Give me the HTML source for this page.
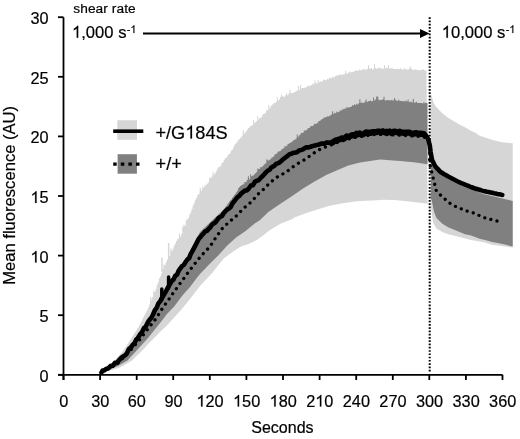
<!DOCTYPE html>
<html><head><meta charset="utf-8"><style>
html,body{margin:0;padding:0;background:#fff;}
body{width:520px;height:439px;overflow:hidden;}
svg{display:block;font-family:"Liberation Sans",sans-serif;filter:grayscale(1);}
</style></head><body>
<svg width="520" height="439" viewBox="0 0 520 439">
<g shape-rendering="geometricPrecision">
<polygon points="101.5,371.5 102.5,370.7 103.6,369.9 104.7,369.1 105.7,368.3 106.8,367.5 107.8,366.7 108.8,365.9 109.9,365.1 111.0,364.3 112.0,363.5 113.1,362.3 114.1,361.0 115.2,359.8 116.3,358.6 117.3,357.4 118.4,356.1 119.4,354.9 120.5,353.7 121.6,352.5 122.6,351.2 123.7,350.0 124.7,348.4 125.8,346.9 126.8,345.3 127.9,343.7 128.9,342.1 130.0,340.6 131.0,339.0 132.1,337.3 133.2,335.6 134.2,333.8 135.3,332.1 136.4,330.4 137.4,328.6 138.5,326.9 139.6,325.2 140.6,323.2 141.6,321.2 142.6,319.1 143.6,317.1 144.7,315.1 145.7,313.1 146.7,311.0 147.7,309.0 148.7,307.0 149.8,304.0 151.0,300.8 152.0,300.8 152.1,297.2 153.1,297.2 153.3,290.7 154.3,290.7 154.4,291.9 155.4,291.9 155.6,289.0 156.6,289.0 156.7,284.9 157.7,284.9 157.9,282.1 158.9,282.1 159.0,278.2 160.0,278.2 160.1,276.2 161.1,276.2 161.3,273.2 162.3,273.2 162.4,269.0 163.4,269.0 163.5,264.6 164.5,264.6 164.7,265.3 165.7,265.3 165.8,262.1 166.8,262.1 166.9,259.5 167.9,259.5 168.1,257.5 169.1,257.5 169.2,256.0 170.2,256.0 170.3,248.5 171.3,248.5 171.5,251.0 172.5,251.0 172.6,248.4 173.6,248.4 173.7,246.0 174.7,246.0 174.9,243.5 175.9,243.5 176.0,241.0 177.0,241.0 177.0,239.2 178.0,239.2 178.0,238.8 179.0,238.8 179.0,233.4 180.0,233.4 180.0,236.5 181.0,236.5 181.2,234.0 182.2,234.0 182.3,226.8 183.3,226.8 183.5,224.4 184.5,224.4 184.7,225.9 185.7,225.9 185.8,219.9 186.8,219.9 186.9,219.4 187.9,219.4 188.1,218.0 189.1,218.0 189.2,214.6 190.2,214.6 190.4,212.2 191.4,212.2 191.5,209.0 192.5,209.0 192.7,205.6 193.7,205.6 193.8,203.2 194.8,203.2 195.0,199.8 196.0,199.8 196.2,197.7 197.2,197.7 197.3,194.7 198.3,194.7 198.5,194.3 199.5,194.3 199.8,188.0 200.8,188.0 201.0,190.9 202.0,190.9 202.2,186.6 203.2,186.6 203.3,188.1 204.3,188.1 204.4,185.6 205.4,185.6 205.6,185.1 206.6,185.1 206.8,183.8 207.8,183.8 207.9,182.5 208.9,182.5 209.1,177.5 210.1,177.5 210.2,178.3 211.2,178.3 211.4,176.6 212.4,176.6 212.5,171.8 213.5,171.8 213.6,174.8 214.6,174.8 214.7,173.2 215.7,173.2 215.8,171.3 216.8,171.3 216.9,168.8 217.9,168.8 218.1,167.2 219.1,167.2 219.2,166.9 220.2,166.9 220.4,165.4 221.4,165.4 221.5,163.1 222.5,163.1 222.7,162.3 223.7,162.3 223.8,159.8 224.8,159.8 224.8,158.1 225.8,158.1 225.8,158.1 226.8,158.1 226.8,156.5 227.8,156.5 227.8,154.5 228.8,154.5 228.8,154.2 229.8,154.2 229.8,152.8 230.8,152.8 230.8,150.5 231.8,150.5 232.0,149.7 233.0,149.7 233.1,147.6 234.1,147.6 234.2,144.8 235.2,144.8 235.4,143.6 236.4,143.6 236.5,142.3 237.5,142.3 237.7,140.3 238.7,140.3 239.1,139.0 240.1,139.0 240.5,137.5 241.5,137.5 241.6,136.2 242.6,136.2 242.7,129.9 243.7,129.9 243.7,133.8 244.7,133.8 244.8,132.5 245.8,132.5 245.9,131.2 246.9,131.2 246.9,129.6 247.9,129.6 248.0,127.9 249.0,127.9 249.1,127.3 250.1,127.3 250.1,126.0 251.1,126.0 251.1,125.8 252.1,125.8 252.1,125.0 253.1,125.0 253.1,119.8 254.1,119.8 254.2,123.3 255.2,123.3 255.2,121.8 256.2,121.8 256.2,121.2 257.2,121.2 257.2,115.8 258.2,115.8 258.2,119.6 259.2,119.6 259.2,118.1 260.2,118.1 260.2,117.9 261.2,117.9 261.2,116.8 262.2,116.8 262.2,114.7 263.2,114.7 263.2,114.0 264.2,114.0 264.2,113.6 265.2,113.6 265.2,112.6 266.2,112.6 266.2,110.1 267.2,110.1 267.3,110.3 268.3,110.3 268.3,104.9 269.3,104.9 269.4,108.5 270.4,108.5 270.4,106.4 271.4,106.4 271.5,105.1 272.5,105.1 272.6,104.0 273.6,104.0 273.6,103.0 274.6,103.0 274.7,102.8 275.7,102.8 275.8,102.1 276.8,102.1 276.8,97.5 277.8,97.5 277.9,100.4 278.9,100.4 278.9,99.4 279.9,99.4 280.0,96.9 281.0,96.9 281.0,94.8 282.0,94.8 282.1,96.4 283.1,96.4 283.1,96.5 284.1,96.5 284.2,96.7 285.2,96.7 285.2,94.9 286.2,94.9 286.3,93.2 287.3,93.2 287.3,95.5 288.3,95.5 288.4,93.6 289.4,93.6 289.4,90.0 290.4,90.0 290.5,92.9 291.5,92.9 291.5,93.0 292.5,93.0 292.5,93.1 293.5,93.1 293.6,92.6 294.6,92.6 294.6,91.9 295.6,91.9 295.7,90.6 296.7,90.6 296.7,90.9 297.7,90.9 297.8,86.0 298.8,86.0 298.8,89.9 299.8,89.9 299.9,85.1 300.9,85.1 300.9,88.4 301.9,88.4 302.0,87.9 303.0,87.9 303.0,88.1 304.0,88.1 304.1,87.7 305.1,87.7 305.1,87.4 306.1,87.4 306.2,87.0 307.2,87.0 307.2,85.6 308.2,85.6 308.3,86.2 309.3,86.2 309.3,86.0 310.3,86.0 310.4,85.3 311.4,85.3 311.4,85.0 312.4,85.0 312.5,83.5 313.5,83.5 313.5,84.2 314.5,84.2 314.6,80.2 315.6,80.2 315.6,83.1 316.6,83.1 316.7,83.4 317.7,83.4 317.7,79.9 318.7,79.9 318.7,82.3 319.7,82.3 319.8,81.2 320.8,81.2 320.8,81.9 321.8,81.9 321.9,81.0 322.9,81.0 322.9,80.1 323.9,80.1 323.9,79.5 324.9,79.5 325.0,80.4 326.0,80.4 326.0,80.0 327.0,80.0 327.0,78.9 328.0,78.9 328.0,79.3 329.0,79.3 329.0,77.6 330.0,77.6 330.0,78.6 331.0,78.6 331.0,78.1 332.0,78.1 332.0,76.7 333.0,76.7 333.0,77.6 334.0,77.6 334.0,77.3 335.0,77.3 335.0,75.7 336.0,75.7 336.0,75.8 337.0,75.8 337.0,75.1 338.0,75.1 338.0,75.5 339.0,75.5 339.0,74.4 340.0,74.4 340.0,74.6 341.0,74.6 341.0,74.9 342.0,74.9 342.1,74.7 343.1,74.7 343.1,74.2 344.1,74.2 344.1,74.2 345.1,74.2 345.2,70.7 346.2,70.7 346.2,73.6 347.2,73.6 347.2,73.4 348.2,73.4 348.3,72.4 349.3,72.4 349.3,71.5 350.3,71.5 350.4,72.6 351.4,72.6 351.4,71.7 352.4,71.7 352.4,72.1 353.4,72.1 353.5,71.5 354.5,71.5 354.5,70.7 355.5,70.7 355.5,69.9 356.5,69.9 356.6,71.1 357.6,71.1 357.6,70.8 358.6,70.8 358.6,69.3 359.6,69.3 359.7,70.6 360.7,70.6 360.7,70.0 361.7,70.0 361.7,69.9 362.7,69.9 362.8,69.1 363.8,69.1 363.8,68.8 364.8,68.8 364.8,70.0 365.8,70.0 365.9,69.3 366.9,69.3 366.9,69.3 367.9,69.3 367.9,65.1 368.9,65.1 369.0,68.2 370.0,68.2 370.0,68.7 371.0,68.7 371.0,68.0 372.0,68.0 372.0,69.4 373.0,69.4 373.0,69.3 374.0,69.3 374.0,63.8 375.0,63.8 375.0,68.0 376.0,68.0 376.0,69.0 377.0,69.0 377.0,68.3 378.0,68.3 378.0,67.8 379.0,67.8 379.0,67.9 380.0,67.9 380.0,68.2 381.0,68.2 381.0,68.5 382.0,68.5 382.0,68.5 383.0,68.5 383.0,68.8 384.0,68.8 384.0,65.2 385.0,65.2 385.0,68.4 386.0,68.4 386.0,67.5 387.0,67.5 387.0,68.2 388.0,68.2 388.0,65.1 389.0,65.1 389.0,68.8 390.0,68.8 390.0,67.9 391.0,67.9 391.0,68.4 392.0,68.4 392.0,68.2 393.0,68.2 393.0,69.0 394.0,69.0 394.0,69.0 395.0,69.0 395.0,69.0 396.0,69.0 396.0,69.1 397.0,69.1 397.0,69.1 398.0,69.1 398.0,69.2 399.0,69.2 399.0,69.1 400.0,69.1 400.0,68.3 401.0,68.3 401.1,69.3 402.1,69.3 402.2,69.4 403.2,69.4 403.2,69.4 404.2,69.4 404.3,68.1 405.3,68.1 405.4,69.4 406.4,69.4 406.5,69.6 407.5,69.6 407.6,69.5 408.6,69.5 408.6,69.1 409.6,69.1 409.7,66.5 410.7,66.5 410.8,68.4 411.8,68.4 411.8,69.9 412.8,69.9 412.8,69.5 413.8,69.5 413.9,70.0 414.9,70.0 414.9,69.3 415.9,69.3 415.9,69.7 416.9,69.7 416.9,70.1 417.9,70.1 418.0,69.7 419.0,69.7 419.0,70.2 420.0,70.2 420.0,70.3 421.0,70.3 421.1,70.1 422.1,70.1 422.2,69.2 423.2,69.2 423.2,69.4 424.2,69.4 424.3,70.6 425.3,70.6 425.4,70.4 426.4,70.4 426.5,70.8 427.5,203.8 416.0,202.3 406.2,201.3 395.0,200.0 383.8,199.8 372.3,200.5 365.0,200.8 355.0,201.5 341.1,203.4 329.6,205.8 318.1,209.2 306.5,212.9 295.0,217.3 291.9,219.2 280.4,223.8 268.8,230.8 263.1,235.4 257.3,239.8 249.2,243.8 241.0,246.5 235.4,250.0 229.6,254.0 223.8,258.5 218.0,265.5 212.3,273.1 206.5,279.0 200.8,285.0 190.0,299.0 181.0,310.0 167.3,325.0 160.0,332.0 153.7,338.5 148.5,343.5 143.5,349.2 138.0,354.5 132.0,360.6 126.0,364.0 120.0,367.5 112.0,370.0 101.5,372.5" fill="#d6d6d6"/>
<polygon points="430.8,93.0 431.3,94.8 433.5,102.8 436.4,107.3 442.1,113.0 447.8,117.6 453.5,121.0 459.2,124.4 464.9,127.3 470.0,130.3 475.7,133.1 479.1,135.5 487.1,138.2 492.8,139.9 498.5,141.6 504.2,142.6 512.7,143.3 512.7,247.6 492.3,244.7 485.0,242.5 471.1,240.0 459.6,237.1 448.1,234.2 442.3,231.9 436.5,228.4 433.1,222.7 430.8,206.0" fill="#d6d6d6"/>
<polygon points="101.5,369.5 102.6,369.3 103.7,368.9 104.9,368.5 106.0,368.1 107.2,367.3 108.5,366.6 109.7,365.8 110.9,365.0 111.9,364.4 112.9,363.7 113.9,363.1 114.9,362.4 115.9,361.8 116.9,361.1 117.9,360.5 118.9,359.8 119.9,358.9 120.9,357.9 121.9,356.9 122.9,356.0 123.9,354.8 124.9,353.6 125.9,352.4 126.9,351.2 127.9,349.9 128.9,348.7 129.9,347.4 130.9,346.2 132.1,344.6 133.3,342.9 134.5,341.3 135.6,339.8 136.7,338.3 137.8,336.8 138.8,335.2 139.9,333.6 140.9,332.1 141.9,330.5 143.0,328.9 144.0,327.3 145.1,325.7 146.2,324.1 147.2,322.5 148.3,320.9 149.4,319.3 150.5,317.5 151.7,315.6 152.8,313.8 153.9,311.6 155.1,309.3 156.2,307.1 157.4,305.0 158.5,302.8 159.6,300.6 160.8,298.5 161.9,296.3 162.9,294.7 163.9,293.1 165.0,291.4 166.0,289.8 167.2,287.8 168.4,285.8 169.5,283.8 170.7,281.8 171.9,279.8 172.9,278.4 173.9,277.0 175.0,275.6 176.0,274.2 177.0,272.8 178.0,271.3 179.0,269.8 180.0,268.3 181.0,266.8 182.0,265.3 183.0,263.5 184.0,261.7 185.0,259.9 186.0,258.1 187.0,256.4 188.0,254.6 189.0,252.8 190.0,251.0 191.0,249.1 192.0,247.2 193.0,245.3 194.0,243.4 195.0,241.5 196.0,239.6 197.0,237.7 198.0,235.8 199.0,233.9 200.0,232.0 201.1,231.0 202.1,230.0 203.2,229.0 204.2,228.0 205.2,227.0 206.3,226.0 207.3,225.0 208.4,224.0 209.4,223.0 210.5,222.0 211.5,221.0 212.6,220.0 213.6,219.0 214.6,218.1 215.7,217.1 216.7,216.2 217.7,215.2 218.7,214.3 219.7,213.3 220.7,212.4 221.8,211.4 222.8,210.5 223.8,209.5 224.8,208.1 225.9,206.6 226.9,205.2 227.9,203.8 228.9,202.3 229.9,200.9 231.0,199.4 232.0,199.4 232.0,197.5 233.0,197.5 233.0,196.6 234.0,196.6 234.0,195.1 235.0,195.1 235.0,193.7 236.0,193.7 236.0,192.2 237.0,192.2 237.0,190.8 238.0,190.8 238.0,188.3 239.0,188.3 239.0,187.1 240.0,187.1 240.0,186.1 241.0,186.1 241.1,185.3 242.1,185.3 242.2,184.7 243.2,184.7 243.4,183.8 244.4,183.8 244.5,181.9 245.5,181.9 245.6,181.9 246.6,181.9 246.8,180.0 247.8,180.0 247.9,176.2 248.9,176.2 249.1,179.2 250.1,179.2 250.1,174.3 251.1,174.3 251.1,176.3 252.1,176.3 252.1,175.8 253.1,175.8 253.1,175.2 254.1,175.2 254.2,174.1 255.2,174.1 255.2,173.1 256.2,173.1 256.2,172.1 257.2,172.1 257.2,168.6 258.2,168.6 258.2,169.0 259.2,169.0 259.2,168.8 260.2,168.8 260.2,167.1 261.2,167.1 261.2,167.2 262.2,167.2 262.2,166.3 263.2,166.3 263.3,165.3 264.3,165.3 264.3,163.9 265.3,163.9 265.3,163.2 266.3,163.2 266.3,159.3 267.3,159.3 267.3,160.3 268.3,160.3 268.3,160.6 269.3,160.6 269.3,159.7 270.3,159.7 270.3,158.9 271.3,158.9 271.3,157.5 272.3,157.5 272.4,157.2 273.4,157.2 273.4,156.3 274.4,156.3 274.4,154.4 275.4,154.4 275.4,154.1 276.4,154.1 276.4,153.4 277.4,153.4 277.4,151.8 278.4,151.8 278.4,151.6 279.4,151.6 279.5,151.0 280.5,151.0 280.5,150.5 281.5,150.5 281.5,149.1 282.5,149.1 282.5,148.8 283.5,148.8 283.6,147.7 284.6,147.7 284.6,146.0 285.6,146.0 285.6,146.4 286.6,146.4 286.6,145.6 287.6,145.6 287.6,143.9 288.6,143.9 288.6,143.4 289.6,143.4 289.6,142.9 290.6,142.9 290.7,142.3 291.7,142.3 291.7,141.8 292.7,141.8 292.7,140.6 293.7,140.6 293.7,139.9 294.7,139.9 294.7,139.5 295.7,139.5 295.7,138.5 296.7,138.5 296.7,134.6 297.7,134.6 297.7,136.8 298.7,136.8 298.7,135.6 299.7,135.6 299.8,134.4 300.8,134.4 300.8,133.1 301.8,133.1 301.8,133.0 302.8,133.0 302.8,132.4 303.8,132.4 303.8,130.5 304.8,130.5 304.8,130.8 305.8,130.8 305.8,130.1 306.8,130.1 306.8,129.5 307.8,129.5 307.8,128.1 308.8,128.1 308.9,128.0 309.9,128.0 309.9,126.4 310.9,126.4 310.9,125.9 311.9,125.9 311.9,126.0 312.9,126.0 312.9,125.5 313.9,125.5 314.0,123.7 315.0,123.7 315.1,124.1 316.1,124.1 316.2,123.4 317.2,123.4 317.3,122.7 318.3,122.7 318.4,121.0 319.4,121.0 319.4,121.0 320.4,121.0 320.5,120.1 321.5,120.1 321.6,119.0 322.6,119.0 322.7,118.5 323.7,118.5 323.8,117.5 324.8,117.5 324.8,117.3 325.8,117.3 325.9,117.0 326.9,117.0 326.9,116.2 327.9,116.2 327.9,116.5 328.9,116.5 329.0,115.7 330.0,115.7 330.0,115.5 331.0,115.5 331.0,114.5 332.0,114.5 332.1,111.2 333.1,111.2 333.1,114.1 334.1,114.1 334.2,112.8 335.2,112.8 335.2,113.2 336.2,113.2 336.3,111.6 337.3,111.6 337.3,112.3 338.3,112.3 338.4,111.9 339.4,111.9 339.4,110.2 340.4,110.2 340.5,111.0 341.5,111.0 341.5,109.6 342.5,109.6 342.6,109.6 343.6,109.6 343.6,108.5 344.6,108.5 344.7,109.1 345.7,109.1 345.7,107.6 346.7,107.6 346.8,107.6 347.8,107.6 347.8,107.6 348.8,107.6 348.9,107.3 349.9,107.3 349.9,106.9 350.9,106.9 351.0,106.4 352.0,106.4 352.0,105.2 353.0,105.2 353.1,105.5 354.1,105.5 354.1,104.2 355.1,104.2 355.2,105.0 356.2,105.0 356.2,103.7 357.2,103.7 357.3,104.4 358.3,104.4 358.3,103.2 359.3,103.2 359.4,99.3 360.4,99.3 360.4,102.8 361.4,102.8 361.5,102.5 362.5,102.5 362.5,103.0 363.5,103.0 363.6,102.8 364.6,102.8 364.6,101.4 365.6,101.4 365.7,99.5 366.7,99.5 366.7,102.0 367.7,102.0 367.8,101.3 368.8,101.3 368.8,101.0 369.8,101.0 369.9,100.5 370.9,100.5 370.9,101.3 371.9,101.3 372.0,101.2 373.0,101.2 373.0,97.4 374.0,97.4 374.1,100.4 375.1,100.4 375.1,99.6 376.1,99.6 376.2,96.4 377.2,96.4 377.2,96.6 378.2,96.6 378.3,99.8 379.3,99.8 379.3,100.2 380.3,100.2 380.4,99.7 381.4,99.7 381.4,100.0 382.4,100.0 382.5,99.3 383.5,99.3 383.5,96.7 384.5,96.7 384.6,100.4 385.6,100.4 385.6,100.3 386.6,100.3 386.7,100.2 387.7,100.2 387.7,99.9 388.7,99.9 388.7,100.3 389.7,100.3 389.8,100.4 390.8,100.4 390.8,99.9 391.8,99.9 391.9,100.2 392.9,100.2 392.9,100.5 393.9,100.5 394.0,98.1 395.0,98.1 395.0,99.7 396.0,99.7 396.1,100.7 397.1,100.7 397.1,100.7 398.1,100.7 398.2,99.7 399.2,99.7 399.2,100.8 400.2,100.8 400.3,100.9 401.3,100.9 401.3,101.1 402.3,101.1 402.4,101.2 403.4,101.2 403.4,101.3 404.4,101.3 404.5,101.2 405.5,101.2 405.5,100.5 406.5,100.5 406.6,101.6 407.6,101.6 407.6,99.6 408.6,99.6 408.7,102.0 409.7,102.0 409.7,102.2 410.7,102.2 410.8,101.6 411.8,101.6 411.8,102.4 412.8,102.4 412.9,98.8 413.9,98.8 413.9,102.6 414.9,102.6 415.0,102.5 416.0,102.5 416.0,101.8 417.0,101.8 417.1,103.0 418.1,103.0 418.1,103.1 419.1,103.1 419.2,103.1 420.2,103.1 420.2,102.9 421.2,102.9 421.3,103.1 422.3,103.1 422.3,103.5 423.3,103.5 423.3,102.2 424.3,102.2 424.4,103.3 425.4,103.3 425.4,102.7 426.4,102.7 426.5,103.1 427.5,103.0 427.5,164.3 413.8,162.3 400.0,161.0 380.0,159.5 360.0,162.5 348.3,165.5 337.7,170.0 326.2,175.0 314.6,181.5 303.1,188.5 291.5,196.5 280.0,204.0 268.3,212.0 260.1,220.0 254.7,223.6 245.6,231.0 236.4,237.3 227.3,245.5 218.2,255.5 209.1,264.6 200.0,274.0 196.0,279.0 190.0,287.0 182.8,295.0 174.2,306.5 167.0,314.0 160.5,322.5 154.0,330.5 148.0,338.0 143.0,343.5 137.8,349.2 132.5,355.0 127.5,360.6 118.0,366.0 110.0,369.5 101.5,372.0" fill="#808080"/>
<polygon points="430.8,155.0 431.5,161.0 434.7,168.0 440.3,174.0 448.2,179.0 457.7,184.0 465.0,187.3 475.9,190.9 483.2,194.0 492.3,196.0 501.4,198.2 512.7,200.9 512.7,246.5 501.4,243.8 492.3,241.9 485.0,240.0 479.6,238.8 471.1,235.6 465.0,234.2 459.6,231.9 448.1,227.3 442.3,223.8 436.5,218.1 434.2,212.3 433.2,208.0 431.9,201.0 430.8,198.0" fill="#808080"/>
<polyline points="101.5,372.0 108.0,369.0 118.0,363.0 128.0,353.0 139.0,340.5 149.0,327.5 155.7,319.0 159.1,313.5 162.6,308.0 166.6,302.5 170.1,297.5 173.2,293.0 176.9,287.9 180.6,282.7 187.9,272.8 193.4,265.5 201.0,256.0 210.0,246.5 214.6,239.4 218.1,234.5 220.9,230.0 224.4,226.1 229.0,222.2 233.1,218.6 236.5,215.8 243.1,208.8 251.7,201.5 255.8,196.7 259.2,192.9 263.3,189.5 266.7,186.0 270.2,182.9 273.6,179.6 278.8,176.0 284.0,173.3 288.7,170.2 292.1,167.5 295.6,164.8 299.6,162.5 303.6,160.3 307.1,157.9 312.9,153.8 316.3,151.3 319.8,149.4 325.6,146.9 333.0,144.0 340.0,141.5 353.0,137.7 364.6,136.0 376.1,134.2 391.5,134.8 403.0,135.4 414.6,136.0 424.0,137.0 428.5,139.0 429.6,143.0 429.6,163.0 430.7,167.8 431.4,171.0 433.2,178.2 436.3,190.7 441.1,195.6 445.6,199.6 450.5,203.8 456.4,206.9 462.4,209.3 468.2,211.5 474.5,213.3 480.1,215.9 485.9,218.3 492.0,219.7 498.2,221.3" fill="none" stroke="#000" stroke-width="3.3" stroke-linecap="round" stroke-dasharray="0.01 6.3"/>
<g stroke="#d6d6d6" stroke-width="1.4"><line x1="168.6" y1="243" x2="168.6" y2="258"/><line x1="162" y1="257.4" x2="162" y2="272"/><line x1="150.7" y1="297.4" x2="150.7" y2="305"/></g>
<g stroke="#000" stroke-width="3.5" stroke-linecap="round"><line x1="161.8" y1="289" x2="161.8" y2="300"/><line x1="168.6" y1="277" x2="168.6" y2="288"/></g>
<polyline points="331.3,144.1 333.0,143.4 334.8,142.0 336.5,141.6 338.2,140.9 340.0,140.4 341.6,139.5 343.2,139.5 344.9,139.5 346.5,137.6 348.1,138.0 349.8,137.7 351.4,136.5 353.0,136.2 354.7,136.8 356.3,134.9 358.0,135.5 359.6,134.6 361.3,135.5 362.9,135.5 364.6,134.5 366.2,133.5 367.9,134.1 369.5,133.8 371.2,133.9 372.8,133.2 374.5,133.2 376.1,133.3 377.8,132.8 379.5,132.7 381.2,133.7 382.9,132.4 384.7,133.4 386.4,132.9 388.1,133.6 389.8,132.6 391.5,134.2 393.1,133.1 394.8,132.7 396.4,133.2 398.1,133.5 399.7,132.9 401.4,133.7 403.0,133.8 404.7,134.3 406.3,133.8 408.0,133.7 409.6,133.7 411.3,134.8 412.9,135.2 414.6,134.5 416.4,134.2 418.2,135.4 420.0,134.8 422.0,135.0 424.0,135.3" fill="none" stroke="#000" stroke-width="4" stroke-linejoin="round" stroke-linecap="round"/>
<polyline points="101.5,372.5 102.6,370.5 104.3,370.4 106.0,369.0 107.6,368.6 109.3,367.3 110.9,365.7 112.9,365.6 114.9,362.9 116.9,362.9 118.9,360.4 120.9,358.2 122.9,356.7 124.9,355.3 126.9,353.3 128.9,349.0 130.9,347.4 132.7,344.9 134.5,343.0 136.2,339.7 137.8,338.0 139.9,334.6 141.9,332.3 144.0,328.1 145.8,326.6 147.6,322.8 149.4,320.0 151.1,318.1 152.8,315.0 155.1,309.8 156.8,307.5 158.5,303.2 160.2,301.3 161.9,297.9 163.9,294.8 166.0,291.2 168.0,287.4 169.9,284.2 171.9,280.8 173.6,279.4 175.3,275.6 177.0,274.7 178.7,270.6 180.3,268.5 182.0,266.1 183.8,264.9 185.6,262.0 187.4,259.5 189.2,258.1 190.8,253.8 192.4,251.1 194.0,248.1 196.2,243.9 198.5,239.3 200.2,237.3 201.9,235.1 203.7,233.3 205.4,231.2 207.1,230.8 208.8,228.7 210.4,227.2 212.0,224.6 213.7,223.5 215.3,222.5 216.9,220.5 218.6,218.0 220.4,216.9 222.1,215.9 223.8,213.0 225.5,211.2 227.2,209.6 229.0,208.6 230.7,207.1 232.3,203.7 234.0,201.5 235.7,199.4 237.3,197.4 239.2,196.0 241.1,193.6 243.0,192.2 244.9,190.5 246.9,190.4 248.8,188.5 250.9,185.5 252.9,185.2 255.0,181.8 256.8,180.7 258.6,180.2 260.4,178.2 262.7,176.0 265.0,173.4 267.3,171.0 269.6,169.8 271.2,167.7 272.8,166.6 274.5,165.7 276.1,163.9 277.7,163.3 279.7,162.4 281.6,160.7 283.6,158.8 285.6,157.4 287.6,155.9 289.5,154.2 291.5,153.8 293.3,152.7 295.2,152.6 297.0,152.2 299.0,150.5 301.0,150.0 303.0,149.4 304.7,148.2 306.3,147.2 308.0,147.4 309.6,147.2 311.3,146.5 313.0,145.9 314.6,145.6 316.4,145.1 318.2,144.7 320.0,144.1 322.0,143.6 324.1,143.8 326.1,142.6 327.8,142.6 329.6,142.8 331.3,142.1 333.0,141.4 334.8,140.0 336.5,139.6 338.2,138.9 340.0,138.4 341.6,137.5 343.2,137.5 344.9,137.5 346.5,135.6 348.1,136.0 349.8,135.7 351.4,134.5 353.0,134.2 354.7,134.8 356.3,132.9 358.0,133.5 359.6,132.6 361.3,133.5 362.9,133.5 364.6,132.5 366.2,131.5 367.9,132.1 369.5,131.8 371.2,131.9 372.8,131.2 374.5,131.2 376.1,131.3 377.8,130.8 379.5,130.7 381.2,131.7 382.9,130.4 384.7,131.4 386.4,130.9 388.1,131.6 389.8,130.6 391.5,132.2 393.1,131.1 394.8,130.7 396.4,131.2 398.1,131.5 399.7,130.9 401.4,131.7 403.0,131.8 404.7,132.3 406.3,131.8 408.0,131.7 409.6,131.7 411.3,132.8 412.9,133.2 414.6,132.5 416.4,132.2 418.2,133.4 420.0,132.8 422.0,133.0 424.0,133.3 426.5,136.0 428.3,139.5 429.8,145.5 430.6,151.8 432.0,159.8 435.2,166.2 436.9,168.1 438.6,169.9 440.3,171.8 442.3,173.0 444.2,174.2 446.2,175.3 448.2,176.5 450.1,177.5 452.0,178.5 453.9,179.5 455.8,180.5 457.7,181.5 459.5,182.3 461.4,183.1 463.2,183.8 465.0,184.6 466.8,185.3 468.6,186.0 470.5,186.8 472.3,187.5 474.1,188.2 475.9,188.7 477.7,189.3 479.6,189.8 481.4,190.4 483.2,190.9 485.0,191.3 486.8,191.7 488.7,192.0 490.5,192.4 492.3,192.8 494.0,193.2 495.6,193.5 497.3,193.9 499.0,194.2 500.6,194.6 502.3,194.9" fill="none" stroke="#000" stroke-width="4.6" stroke-linejoin="round" stroke-linecap="round"/>
</g>
<line x1="429.7" y1="17.2" x2="429.7" y2="371.6" stroke="#000" stroke-width="2" stroke-dasharray="1.7 1.564"/>
<g stroke="#000" stroke-width="1.8">
<line x1="63.5" y1="17.2" x2="63.5" y2="380"/>
<line x1="58" y1="374.8" x2="502.5" y2="374.8"/>
<line x1="58" y1="374.8" x2="63.5" y2="374.8"/><line x1="58" y1="315.2" x2="63.5" y2="315.2"/><line x1="58" y1="255.6" x2="63.5" y2="255.6"/><line x1="58" y1="196.0" x2="63.5" y2="196.0"/><line x1="58" y1="136.4" x2="63.5" y2="136.4"/><line x1="58" y1="76.8" x2="63.5" y2="76.8"/><line x1="58" y1="17.2" x2="63.5" y2="17.2"/>
<line x1="63.5" y1="374.8" x2="63.5" y2="380"/><line x1="100.1" y1="374.8" x2="100.1" y2="380"/><line x1="136.7" y1="374.8" x2="136.7" y2="380"/><line x1="173.2" y1="374.8" x2="173.2" y2="380"/><line x1="209.8" y1="374.8" x2="209.8" y2="380"/><line x1="246.4" y1="374.8" x2="246.4" y2="380"/><line x1="283.0" y1="374.8" x2="283.0" y2="380"/><line x1="319.6" y1="374.8" x2="319.6" y2="380"/><line x1="356.2" y1="374.8" x2="356.2" y2="380"/><line x1="392.8" y1="374.8" x2="392.8" y2="380"/><line x1="429.3" y1="374.8" x2="429.3" y2="380"/><line x1="465.9" y1="374.8" x2="465.9" y2="380"/><line x1="502.5" y1="374.8" x2="502.5" y2="380"/>
<line x1="143" y1="33.5" x2="421" y2="33.5"/>
</g>
<polygon points="420,28.9 429.6,33.5 420,38.1" fill="#000"/>
<g font-size="16" fill="#000" stroke="#000" stroke-width="0.2">
<text x="39.53" y="381.80" font-size="16.3" stroke-width="0.2">0</text><text x="39.53" y="322.20" font-size="16.3" stroke-width="0.2">5</text><text x="30.47" y="262.60" font-size="16.3" stroke-width="0.2"> 0</text><path d="M763,0 L583,0 L583,1147 Q518,1085 412.5,1023 Q307,961 223,930 L223,1104 Q374,1175 487,1276 Q600,1377 647,1472 L763,1472 Z" transform="translate(30.47,262.60) scale(0.00796,-0.00796)" stroke-width="25.1"/><text x="30.47" y="203.00" font-size="16.3" stroke-width="0.2"> 5</text><path d="M763,0 L583,0 L583,1147 Q518,1085 412.5,1023 Q307,961 223,930 L223,1104 Q374,1175 487,1276 Q600,1377 647,1472 L763,1472 Z" transform="translate(30.47,203.00) scale(0.00796,-0.00796)" stroke-width="25.1"/><text x="30.47" y="143.40" font-size="16.3" stroke-width="0.2">20</text><text x="30.47" y="83.80" font-size="16.3" stroke-width="0.2">25</text><text x="30.47" y="24.20" font-size="16.3" stroke-width="0.2">30</text>
<text x="59.17" y="406.60" font-size="16.3" stroke-width="0.2">0</text><text x="91.22" y="406.60" font-size="16.3" stroke-width="0.2">30</text><text x="127.80" y="406.60" font-size="16.3" stroke-width="0.2">60</text><text x="164.38" y="406.60" font-size="16.3" stroke-width="0.2">90</text><text x="196.44" y="406.60" font-size="16.3" stroke-width="0.2"> 20</text><path d="M763,0 L583,0 L583,1147 Q518,1085 412.5,1023 Q307,961 223,930 L223,1104 Q374,1175 487,1276 Q600,1377 647,1472 L763,1472 Z" transform="translate(196.44,406.60) scale(0.00796,-0.00796)" stroke-width="25.1"/><text x="233.02" y="406.60" font-size="16.3" stroke-width="0.2"> 50</text><path d="M763,0 L583,0 L583,1147 Q518,1085 412.5,1023 Q307,961 223,930 L223,1104 Q374,1175 487,1276 Q600,1377 647,1472 L763,1472 Z" transform="translate(233.02,406.60) scale(0.00796,-0.00796)" stroke-width="25.1"/><text x="269.60" y="406.60" font-size="16.3" stroke-width="0.2"> 80</text><path d="M763,0 L583,0 L583,1147 Q518,1085 412.5,1023 Q307,961 223,930 L223,1104 Q374,1175 487,1276 Q600,1377 647,1472 L763,1472 Z" transform="translate(269.60,406.60) scale(0.00796,-0.00796)" stroke-width="25.1"/><text x="306.19" y="406.60" font-size="16.3" stroke-width="0.2">2 0</text><path d="M763,0 L583,0 L583,1147 Q518,1085 412.5,1023 Q307,961 223,930 L223,1104 Q374,1175 487,1276 Q600,1377 647,1472 L763,1472 Z" transform="translate(315.25,406.60) scale(0.00796,-0.00796)" stroke-width="25.1"/><text x="342.77" y="406.60" font-size="16.3" stroke-width="0.2">240</text><text x="379.35" y="406.60" font-size="16.3" stroke-width="0.2">270</text><text x="415.94" y="406.60" font-size="16.3" stroke-width="0.2">300</text><text x="452.52" y="406.60" font-size="16.3" stroke-width="0.2">330</text><text x="489.10" y="406.60" font-size="16.3" stroke-width="0.2">360</text>
<text x="251.3" y="433.3" >Seconds</text>
<text transform="translate(15.2,284.8) rotate(-90)" font-size="16.6">Mean fluorescence (AU)</text>
<text x="72.00" y="37.70" font-size="16.6" stroke-width="0.2"> ,000 s</text><path d="M763,0 L583,0 L583,1147 Q518,1085 412.5,1023 Q307,961 223,930 L223,1104 Q374,1175 487,1276 Q600,1377 647,1472 L763,1472 Z" transform="translate(72.00,37.70) scale(0.00811,-0.00811)" stroke-width="24.7"/><text x="126.75" y="33.00" font-size="10.8" stroke-width="0.2">- </text><path d="M763,0 L583,0 L583,1147 Q518,1085 412.5,1023 Q307,961 223,930 L223,1104 Q374,1175 487,1276 Q600,1377 647,1472 L763,1472 Z" transform="translate(130.35,33.00) scale(0.00527,-0.00527)" stroke-width="37.9"/>
<text x="441.70" y="37.70" font-size="16.6" stroke-width="0.2"> 0,000 s</text><path d="M763,0 L583,0 L583,1147 Q518,1085 412.5,1023 Q307,961 223,930 L223,1104 Q374,1175 487,1276 Q600,1377 647,1472 L763,1472 Z" transform="translate(441.70,37.70) scale(0.00811,-0.00811)" stroke-width="24.7"/><text x="505.68" y="33.00" font-size="10.8" stroke-width="0.2">- </text><path d="M763,0 L583,0 L583,1147 Q518,1085 412.5,1023 Q307,961 223,930 L223,1104 Q374,1175 487,1276 Q600,1377 647,1472 L763,1472 Z" transform="translate(509.28,33.00) scale(0.00527,-0.00527)" stroke-width="37.9"/>
</g>
<text x="73.3" y="13" font-size="13.7" letter-spacing="0.08" stroke="#000" stroke-width="0.2">shear rate</text>
<rect x="117.3" y="120.2" width="19.7" height="19.6" fill="#d6d6d6"/>
<line x1="113.2" y1="131.2" x2="143.3" y2="131.2" stroke="#000" stroke-width="3.6"/>
<rect x="117.6" y="154.2" width="19.3" height="19.5" fill="#808080"/>
<line x1="113.2" y1="164.2" x2="139.8" y2="164.2" stroke="#000" stroke-width="3.3" stroke-dasharray="3.5 4.1"/>
<g font-size="18.2" fill="#000" stroke="#000" stroke-width="0.2">
<text x="155.40" y="138.60" font-size="18.2" stroke-width="0.2">+/G 84S</text><path d="M763,0 L583,0 L583,1147 Q518,1085 412.5,1023 Q307,961 223,930 L223,1104 Q374,1175 487,1276 Q600,1377 647,1472 L763,1472 Z" transform="translate(185.24,138.60) scale(0.00889,-0.00889)" stroke-width="22.5"/>
<text x="155.6" y="169.5">+/+</text>
</g>
</svg>
</body></html>
